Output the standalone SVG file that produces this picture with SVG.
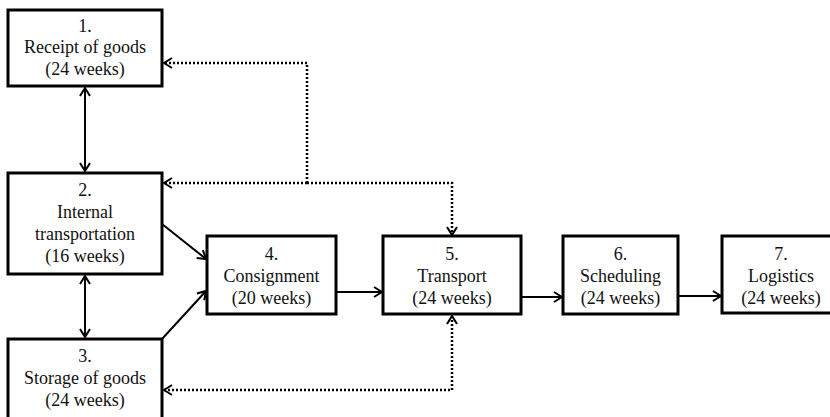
<svg xmlns="http://www.w3.org/2000/svg" width="830" height="417" viewBox="0 0 830 417">
<style>
.box{fill:#fff;stroke:#000;stroke-width:3}
text{font-family:'Liberation Serif','Tinos','DejaVu Serif',serif;font-size:18px;fill:#111;text-anchor:middle}
.c{fill:none;stroke:#000;stroke-width:2}
.d{fill:none;stroke:#000;stroke-width:2.5;stroke-dasharray:2 2}
</style>
<defs>
<marker id="ah" viewBox="0 0 10 12" refX="9" refY="6" markerWidth="10" markerHeight="12" markerUnits="userSpaceOnUse" orient="auto-start-reverse">
<path d="M1,1 L9,6 L1,11" fill="none" stroke="#000" stroke-width="2"/>
</marker>
</defs>
<rect width="830" height="417" fill="#fff"/>
<g id="connectors">
<path class="c" d="M85,88 V171" marker-start="url(#ah)" marker-end="url(#ah)"/>
<path class="c" d="M85,276 V337" marker-start="url(#ah)" marker-end="url(#ah)"/>
<path class="c" d="M162,224 L206,259" marker-end="url(#ah)"/>
<path class="c" d="M162,339 L206,291" marker-end="url(#ah)"/>
<path class="c" d="M336,292 H382" marker-end="url(#ah)"/>
<path class="c" d="M521,297 H562" marker-end="url(#ah)"/>
<path class="c" d="M678,296 H721" marker-end="url(#ah)"/>
<path class="d" d="M307,183 V63 H164" marker-end="url(#ah)"/>
<path class="d" d="M307,183 H164" marker-end="url(#ah)"/>
<path class="d" d="M307,183 H452 V235" marker-end="url(#ah)"/>
<path class="d" d="M164,390 H452 V316" marker-start="url(#ah)" marker-end="url(#ah)"/>
</g>
<g id="n1"><rect class="box" x="8" y="10" width="154" height="76"/>
<text x="85" y="32">1.</text><text x="85" y="53">Receipt of goods</text><text x="85" y="75">(24 weeks)</text></g>
<g id="n2"><rect class="box" x="8" y="173" width="154" height="101"/>
<text x="85" y="196">2.</text><text x="85" y="218">Internal</text><text x="85" y="240">transportation</text><text x="85" y="262">(16 weeks)</text></g>
<g id="n3"><rect class="box" x="8" y="339" width="154" height="82"/>
<text x="85" y="362">3.</text><text x="85" y="384">Storage of goods</text><text x="85" y="406">(24 weeks)</text></g>
<g id="n4"><rect class="box" x="207" y="236" width="129" height="78"/>
<text x="271.5" y="260">4.</text><text x="271.5" y="282">Consignment</text><text x="271.5" y="304">(20 weeks)</text></g>
<g id="n5"><rect class="box" x="383" y="236" width="138" height="78"/>
<text x="452" y="260">5.</text><text x="452" y="282">Transport</text><text x="452" y="304">(24 weeks)</text></g>
<g id="n6"><rect class="box" x="563" y="236" width="115" height="78"/>
<text x="620.5" y="260">6.</text><text x="620.5" y="282">Scheduling</text><text x="620.5" y="304">(24 weeks)</text></g>
<g id="n7"><rect class="box" x="722" y="236" width="120" height="77"/>
<text x="781" y="260">7.</text><text x="781" y="282">Logistics</text><text x="781" y="304">(24 weeks)</text></g>
</svg>
